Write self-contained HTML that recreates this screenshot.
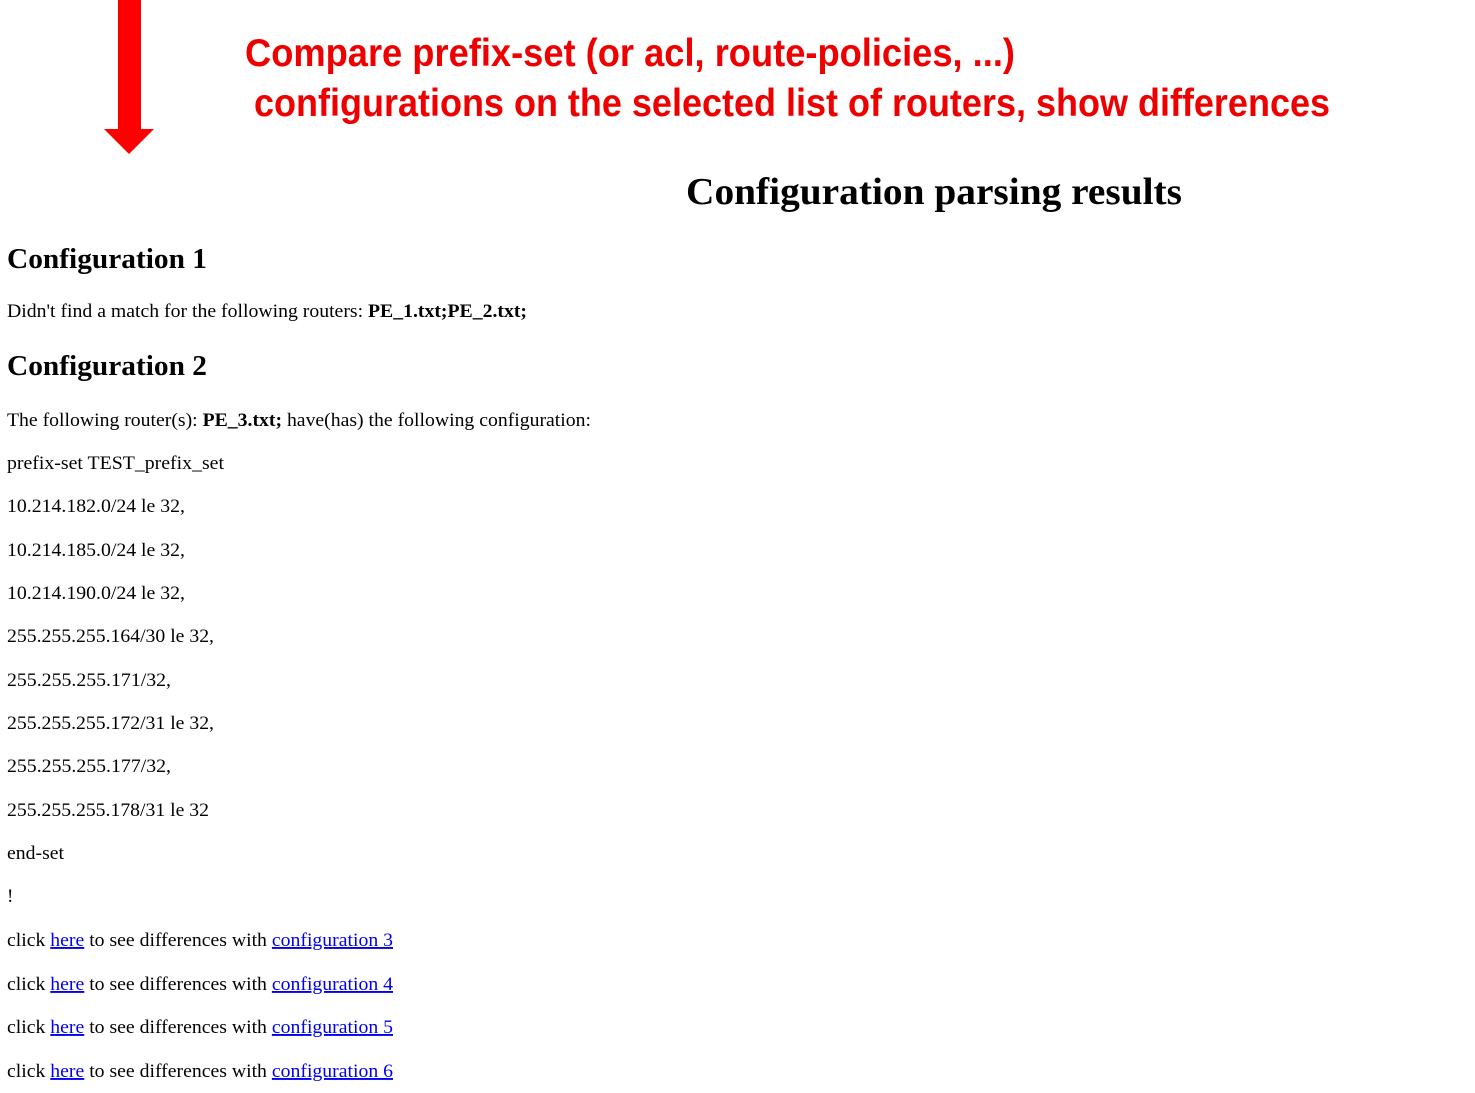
<!DOCTYPE html>
<html><head><meta charset="utf-8"><style>
html,body{margin:0;padding:0;background:#fff;width:1475px;height:1093px;overflow:hidden}
svg{display:block}
.b{font-family:"Liberation Serif",serif;font-size:19px;fill:#000}
.lk{fill:#0000ee;text-decoration:underline;cursor:pointer}
</style></head><body>
<svg width="1475" height="1093" viewBox="0 0 1475 1093">
<polygon fill="#ff0000" points="118,0 141,0 141,129 154,129 129,154 104,129 118,129"/>
<text x="245" y="66" font-family="Liberation Sans,sans-serif" font-weight="bold" font-size="39" fill="#ee0000" textLength="770" lengthAdjust="spacingAndGlyphs">Compare prefix-set (or acl, route-policies, ...)</text>
<text x="254" y="116" font-family="Liberation Sans,sans-serif" font-weight="bold" font-size="39" fill="#ee0000" textLength="1076" lengthAdjust="spacingAndGlyphs">configurations on the selected list of routers, show differences</text>
<text x="686" y="204" font-family="Liberation Serif,serif" font-weight="bold" font-size="38" textLength="496" lengthAdjust="spacingAndGlyphs">Configuration parsing results</text>
<text x="7" y="268" font-family="Liberation Serif,serif" font-weight="bold" font-size="28" textLength="200" lengthAdjust="spacingAndGlyphs">Configuration 1</text>
<text class="b" x="7" y="317" textLength="520" lengthAdjust="spacingAndGlyphs">Didn't find a match for the following routers: <tspan font-weight="bold">PE_1.txt;PE_2.txt;</tspan></text>
<text x="7" y="375" font-family="Liberation Serif,serif" font-weight="bold" font-size="28" textLength="200" lengthAdjust="spacingAndGlyphs">Configuration 2</text>
<text class="b" x="7" y="426" textLength="584" lengthAdjust="spacingAndGlyphs">The following router(s): <tspan font-weight="bold">PE_3.txt;</tspan> have(has) the following configuration:</text>
<text class="b" x="7" y="469" textLength="217" lengthAdjust="spacingAndGlyphs">prefix-set TEST_prefix_set</text>
<text class="b" x="7" y="512" textLength="178" lengthAdjust="spacingAndGlyphs">10.214.182.0/24 le 32,</text>
<text class="b" x="7" y="556" textLength="178" lengthAdjust="spacingAndGlyphs">10.214.185.0/24 le 32,</text>
<text class="b" x="7" y="599" textLength="178" lengthAdjust="spacingAndGlyphs">10.214.190.0/24 le 32,</text>
<text class="b" x="7" y="642" textLength="207" lengthAdjust="spacingAndGlyphs">255.255.255.164/30 le 32,</text>
<text class="b" x="7" y="686" textLength="164" lengthAdjust="spacingAndGlyphs">255.255.255.171/32,</text>
<text class="b" x="7" y="729" textLength="207" lengthAdjust="spacingAndGlyphs">255.255.255.172/31 le 32,</text>
<text class="b" x="7" y="772" textLength="164" lengthAdjust="spacingAndGlyphs">255.255.255.177/32,</text>
<text class="b" x="7" y="816" textLength="202" lengthAdjust="spacingAndGlyphs">255.255.255.178/31 le 32</text>
<text class="b" x="7" y="859" textLength="57" lengthAdjust="spacingAndGlyphs">end-set</text>
<text class="b" x="7" y="902">!</text>
<text class="b" x="7" y="946" textLength="386" lengthAdjust="spacingAndGlyphs">click <tspan class="lk">here</tspan> to see differences with <tspan class="lk">configuration 3</tspan></text>
<text class="b" x="7" y="990" textLength="386" lengthAdjust="spacingAndGlyphs">click <tspan class="lk">here</tspan> to see differences with <tspan class="lk">configuration 4</tspan></text>
<text class="b" x="7" y="1033" textLength="386" lengthAdjust="spacingAndGlyphs">click <tspan class="lk">here</tspan> to see differences with <tspan class="lk">configuration 5</tspan></text>
<text class="b" x="7" y="1077" textLength="386" lengthAdjust="spacingAndGlyphs">click <tspan class="lk">here</tspan> to see differences with <tspan class="lk">configuration 6</tspan></text>
</svg>
</body></html>
